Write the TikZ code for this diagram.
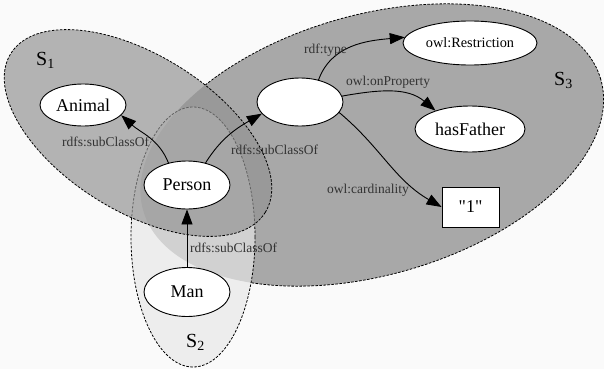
\documentclass[tikz,border=0pt]{standalone}
\usepackage{fontspec}
\setmainfont{Liberation Serif}
\newfontfamily\plainserif{Liberation Serif}
\usetikzlibrary{shapes.geometric,arrows.meta}
\definecolor{bgc}{gray}{0.98}
\definecolor{sthree}{gray}{0.66}
\definecolor{stwo}{gray}{0.906}
\definecolor{sone}{gray}{0.573}
\begin{document}
\begin{tikzpicture}[x=1pt,y=1pt,
 cls/.style={ellipse, draw, fill=white, line width=0.9pt, inner sep=0pt, font=\fontsize{18}{20}\selectfont},
 lbl/.style={font=\fontsize{13.5}{15}\selectfont, text=black!80, inner sep=0pt, anchor=base west},
 rel/.style={line width=0.9pt, -{Triangle[length=15pt,width=11pt]}},
 setb/.style={dash pattern=on 2.5pt off 1.5pt, line width=0.8pt},
 slab/.style={font=\fontsize{20}{22}\selectfont, inner sep=0pt, anchor=base west}]
\useasboundingbox[fill=bgc] (0,0) rectangle (604,-369);

% S3
\fill[sthree, rotate around={16:(372,-145)}] (372,-145) ellipse [x radius=238, y radius=130];
\begin{scope}
 \clip (-100,100) -- (700,100) -- (700,-500) -- (-100,-500) -- cycle
       (193,-237) ellipse [x radius=62, y radius=130];
 \begin{scope}
  \clip[rotate around={-32:(138,-133)}] (-1000,1000) -- (1000,1000) -- (1000,-1000) -- (-1000,-1000) -- cycle
        (138,-133) ellipse [x radius=150, y radius=78];
  \draw[setb, rotate around={16:(372,-145)}] (372,-145) ellipse [x radius=238, y radius=130];
 \end{scope}
\end{scope}

% S2
\fill[stwo, fill opacity=0.663] (193,-237) ellipse [x radius=62, y radius=130];
\draw[setb] (193,-237) ellipse [x radius=62, y radius=130];

% S1
\fill[sone, fill opacity=0.675, rotate around={-32:(138,-133)}] (138,-133) ellipse [x radius=150, y radius=78];
\draw[setb, rotate around={-32:(138,-133)}] (138,-133) ellipse [x radius=150, y radius=78];

% set labels
\node[slab] (s1) at (36,-65) {S\textsubscript{1}};
\node[slab] (s2) at (186,-347) {S\textsubscript{2}};
\node[slab] (s3) at (554,-85) {S\textsubscript{3}};

% class nodes
\node[cls, minimum width=86, minimum height=42] (animal) at (83,-105) {Animal};
\node[cls, minimum width=86, minimum height=48] (person) at (187,-185) {Person};
\node[cls, minimum width=86, minimum height=49] (man) at (187,-292) {Man};
\node[cls, minimum width=86, minimum height=48] (blank) at (300,-102) {};
\node[cls, minimum width=134, minimum height=44, font=\fontsize{14.3}{16}\selectfont] (restr) at (470,-43) {owl:Restriction};
\node[cls, minimum width=110, minimum height=46] (father) at (470,-129) {hasFather};
\node[draw, fill=white, line width=0.9pt, minimum width=57, minimum height=40, inner sep=0pt, font=\plainserif\fontsize{18}{20}\selectfont] (one) at (470.5,-207) {"1"};

% connectors
\draw[rel] (person.130) to[out=112,in=-42] (animal.-15);
\draw[rel] (person.50) to[out=58,in=-150] (blank.197);
\draw[rel] (man) -- (person);
\draw[rel] (blank.50) to[out=70,in=185] (restr.175);
\draw[rel] (blank.8) to[out=10,in=140] (father.152);
\draw[rel] (blank.-15) to[out=-40,in=150] (one.west);

% connector labels
\node[lbl] (l1) at (62,-146) {rdfs:subClassOf};
\node[lbl] (l2) at (231,-154) {rdfs:subClassOf};
\node[lbl] (l3) at (190,-252) {rdfs:subClassOf};
\node[lbl] (l4) at (304,-53) {rdf:type};
\node[lbl] (l5) at (346,-85) {owl:onProperty};
\node[lbl] (l6) at (327,-193) {owl:cardinality};
\end{tikzpicture}
\end{document}
